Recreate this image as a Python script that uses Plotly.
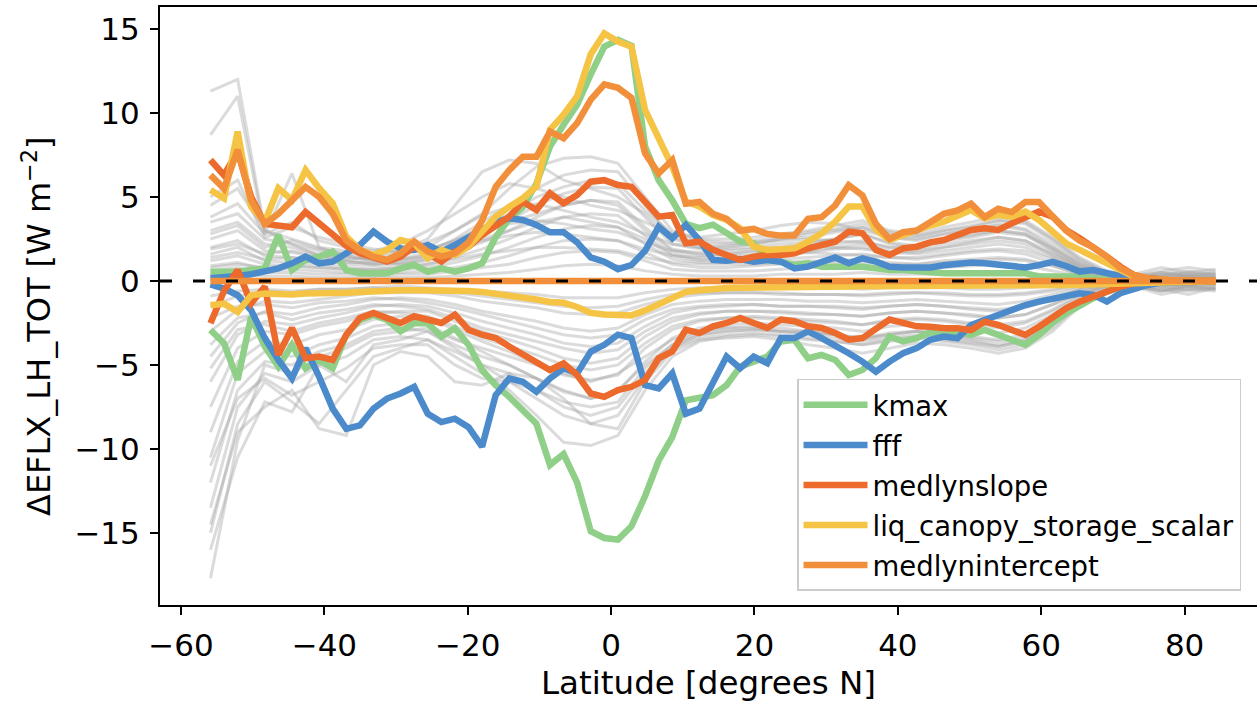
import plotly.graph_objects as go

# ---------------- data ----------------
lat = [-55.89, -54.00, -52.10, -50.21, -48.31, -46.42, -44.52, -42.63, -40.73, -38.84,
       -36.94, -35.05, -33.15, -31.26, -29.37, -27.47, -25.58, -23.68, -21.79, -19.89,
       -18.00, -16.11, -14.21, -12.32, -10.42, -8.53, -6.63, -4.74, -2.84, -0.95,
       0.95, 2.84, 4.74, 6.63, 8.53, 10.42, 12.32, 14.21, 16.11, 18.00,
       19.89, 21.79, 23.68, 25.58, 27.47, 29.37, 31.26, 33.15, 35.05, 36.94,
       38.84, 40.73, 42.63, 44.52, 46.42, 48.31, 50.21, 52.10, 54.00, 55.89,
       57.79, 59.68, 61.58, 63.47, 65.37, 67.26, 69.16, 71.05, 72.95, 74.84,
       76.74, 78.63, 80.53, 82.42, 84.32]

kmax_hi = [0.55, 0.55, 0.55, 0.65, 0.75, 2.74, 0.65, 1.25, 1.45, 1.75,
           0.65, 0.46, 0.46, 0.46, 0.75, 0.95, 0.55, 0.75, 0.55, 0.75,
           1.05, 2.6, 3.7, 4.4, 5.8, 8.0, 9.3, 10.5, 12.3, 13.95,
           14.35, 14.0, 8.0, 6.0, 4.8, 3.4, 3.15, 3.35, 2.85, 2.35,
           2.25, 1.25, 1.15, 0.95, 1.05, 0.85, 0.85, 0.85, 0.85, 0.75,
           0.65, 0.65, 0.56, 0.5, 0.46, 0.46, 0.46, 0.46, 0.46, 0.46,
           0.46, 0.26, 0.26, 0.26, 0.26, 0.15, 0.1, 0.05, 0.03, 0.02,
           0.01, 0.0, 0.0, 0.0, 0.0]
kmax_lo = [-2.92, -3.71, -5.89, -2.12, -3.9, -5.1, -3.81, -5.2, -4.7, -5.2,
           -3.21, -2.32, -2.02, -2.32, -3.0, -2.52, -2.52, -3.31, -2.82, -3.8,
           -5.3, -6.2, -6.9, -7.7, -8.5, -10.95, -10.3, -12.0, -14.9, -15.3,
           -15.4, -14.6, -12.8, -10.7, -9.3, -7.1, -6.9, -6.8, -6.2, -5.1,
           -4.8, -4.5, -3.6, -3.5, -4.6, -4.4, -4.7, -5.6, -5.3, -4.6,
           -3.3, -3.6, -3.4, -3.05, -3.21, -3.02, -3.21, -2.92, -3.21, -3.5,
           -3.8, -3.21, -2.5, -1.93, -1.43, -1.03, -0.63, -0.34, -0.14, -0.06,
           -0.03, -0.02, -0.01, 0.0, 0.0]

fff_hi = [0.16, 0.2, 0.3, 0.4, 0.6, 0.75, 1.05, 1.45, 1.05, 1.15,
          1.65, 2.14, 2.94, 2.34, 1.94, 1.85, 2.14, 1.75, 2.14, 2.64,
          3.14, 3.53, 3.73, 3.63, 3.34, 2.9, 2.9, 2.3, 1.4, 1.15,
          0.7, 0.95, 1.8, 3.23, 2.54, 3.34, 2.44, 1.25, 1.2, 1.3,
          1.15, 1.25, 1.15, 0.75, 0.85, 1.15, 1.4, 1.05, 1.35, 1.15,
          0.85, 0.8, 0.8, 0.8, 0.94, 1.05, 1.1, 1.05, 0.94, 0.85,
          0.81, 0.94, 1.14, 0.89, 0.56, 0.65, 0.46, 0.26, 0.1, 0.05,
          0.03, 0.02, 0.01, 0.0, 0.0]
fff_lo = [-0.2, -0.45, -0.85, -1.75, -3.4, -4.7, -5.8, -4.0, -5.7, -7.6,
          -8.8, -8.6, -7.6, -7.0, -6.7, -6.3, -7.9, -8.4, -8.2, -8.7,
          -9.86, -6.8, -5.8, -6.0, -6.6, -5.8, -5.2, -5.5, -4.2, -3.8,
          -3.2, -3.4, -6.2, -6.4, -5.5, -7.9, -7.6, -6.1, -4.5, -5.2,
          -4.5, -4.9, -3.4, -3.4, -3.0, -3.4, -3.8, -4.3, -4.8, -5.4,
          -4.8, -4.3, -4.0, -3.5, -3.31, -3.41, -2.62, -2.32, -2.02, -1.73,
          -1.43, -1.23, -1.03, -0.93, -0.73, -0.83, -1.23, -0.73, -0.44, -0.24,
          -0.1, -0.05, -0.03, -0.01, 0.0]

medlynslope_hi = [7.2, 6.3, 7.7, 5.0, 3.4, 3.3, 3.2, 4.1, 3.4, 2.8,
                  2.1, 1.65, 1.35, 1.15, 1.45, 2.05, 1.65, 1.15, 1.75, 2.05,
                  2.74, 3.24, 3.83, 4.72, 4.23, 5.22, 4.62, 5.12, 5.91, 6.0,
                  5.71, 5.6, 4.72, 3.83, 3.93, 2.24, 2.34, 1.85, 1.55, 1.25,
                  1.45, 1.55, 1.55, 1.65, 1.94, 2.14, 2.34, 2.94, 2.84, 1.85,
                  1.55, 1.94, 2.04, 2.3, 2.44, 2.74, 3.04, 3.14, 3.04, 3.43,
                  3.73, 4.13, 3.83, 3.04, 2.54, 2.04, 1.45, 0.85, 0.36, 0.16,
                  0.06, 0.03, 0.02, 0.01, 0.0]
medlynslope_lo = [-2.52, -0.6, 0.65, -1.33, -0.33, -4.4, -2.8, -4.6, -4.5, -4.7,
                  -3.2, -2.2, -1.9, -2.2, -2.5, -2.1, -2.3, -2.5, -2.0, -2.9,
                  -3.2, -3.4, -3.9, -4.4, -4.8, -5.3, -4.9, -5.6, -6.7, -6.9,
                  -6.5, -6.3, -5.9, -4.6, -4.2, -2.9, -3.1, -2.7, -2.5, -2.2,
                  -2.5, -2.8, -2.3, -2.4, -2.7, -2.8, -3.1, -3.5, -3.4, -2.9,
                  -2.3, -2.5, -2.7, -2.72, -2.82, -2.82, -2.92, -2.42, -2.62, -2.92,
                  -3.21, -2.72, -2.12, -1.63, -1.23, -0.93, -0.63, -0.34, -0.14, -0.06,
                  -0.03, -0.02, -0.01, 0.0, 0.0]

liq_hi = [5.42, 4.92, 8.89, 4.42, 3.53, 5.52, 4.82, 6.6, 5.52, 4.62,
          2.64, 1.85, 1.55, 1.85, 2.44, 2.24, 1.35, 1.85, 1.55, 2.05,
          2.94, 3.83, 4.42, 4.92, 5.62, 9.0, 9.9, 11.0, 13.5, 14.74,
          14.25, 13.95, 10.18, 8.4, 6.81, 4.73, 4.43, 3.93, 3.63, 3.14,
          2.04, 1.85, 1.85, 1.94, 2.34, 2.84, 3.53, 4.43, 4.43, 3.04,
          2.44, 2.74, 2.94, 3.3, 3.53, 3.83, 4.23, 3.73, 3.93, 3.83,
          4.13, 3.63, 2.94, 2.24, 1.85, 1.45, 1.05, 0.56, 0.26, 0.1,
          0.04, 0.02, 0.01, 0.0, 0.0]
liq_lo = [-1.45, -1.35, -1.85, -0.85, -0.75, -0.8, -0.8, -0.75, -0.75, -0.7,
          -0.7, -0.65, -0.6, -0.6, -0.55, -0.55, -0.55, -0.55, -0.55, -0.6,
          -0.65, -0.75, -0.85, -0.95, -1.1, -1.25, -1.3, -1.55, -1.9, -2.0,
          -2.05, -2.05, -1.75, -1.35, -0.95, -0.65, -0.55, -0.45, -0.42, -0.4,
          -0.38, -0.36, -0.35, -0.35, -0.34, -0.34, -0.33, -0.33, -0.32, -0.32,
          -0.31, -0.31, -0.3, -0.3, -0.3, -0.3, -0.3, -0.3, -0.3, -0.3,
          -0.3, -0.28, -0.26, -0.24, -0.22, -0.2, -0.16, -0.12, -0.08, -0.05,
          -0.03, -0.02, -0.01, 0.0, 0.0]

medlynintercept_hi = [6.3, 5.5, 7.8, 4.8, 3.4, 4.0, 4.8, 5.6, 5.0, 4.0,
                      2.4, 1.85, 1.45, 1.25, 1.65, 2.35, 1.75, 1.45, 1.65, 2.3,
                      3.6, 5.6, 6.6, 7.4, 7.4, 8.9, 8.5, 9.4, 10.8, 11.7,
                      11.5, 10.9, 7.6, 6.4, 7.2, 4.6, 4.7, 4.0, 3.7, 3.0,
                      3.1, 2.8, 2.7, 2.7, 3.7, 3.8, 4.5, 5.7, 5.1, 3.4,
                      2.5, 2.9, 3.0, 3.45, 4.0, 4.2, 4.6, 3.8, 4.3, 4.1,
                      4.7, 4.7, 3.8, 3.0, 2.4, 2.0, 1.45, 0.75, 0.36, 0.16,
                      0.06, 0.03, 0.02, 0.01, 0.0]
medlynintercept_lo = [0.0, 0.0, 0.0, 0.0, 0.0, 0.0, 0.0, 0.0, 0.0, 0.0,
                      0.0, 0.0, 0.0, 0.0, 0.0, 0.0, 0.0, 0.0, 0.0, 0.0,
                      0.0, 0.0, 0.0, 0.0, 0.0, 0.0, 0.0, 0.0, 0.0, 0.0,
                      0.0, 0.0, 0.0, 0.0, 0.0, 0.0, 0.0, 0.0, 0.0, 0.0,
                      0.0, 0.0, 0.0, 0.0, 0.0, 0.0, 0.0, 0.0, 0.0, 0.0,
                      0.0, 0.0, 0.0, 0.0, 0.0, 0.0, 0.0, 0.0, 0.0, 0.0,
                      0.0, 0.0, 0.0, 0.0, 0.0, 0.0, 0.0, 0.0, 0.0, 0.0,
                      0.0, 0.0, 0.0, 0.0, 0.0]

# grey ensemble members, read every second latitude row
gray_p01 = [11.3, 12.0, 3.0, 2.2, 1.5, 1.2, 1.0, 1.2, 1.5, 2.0, 2.8, 3.5, 4.0, 4.5, 4.8, 4.5, 3.0, 1.8, 1.5, 1.6,
            1.8, 2.0, 2.2, 2.5, 2.8, 2.2, 2.0, 2.4, 2.8, 3.0, 2.8, 1.8, 0.8, 0.3, 0.1, 0.2, 0.3, 0.2]
gray_p02 = [8.7, 11.0, 2.8, 6.4, 2.0, 1.5, 1.2, 1.0, 1.3, 1.8, 2.5, 3.0, 3.5, 3.8, 3.5, 3.2, 2.5, 1.5, 1.2, 1.3,
            1.5, 1.6, 1.8, 2.0, 2.2, 1.8, 1.7, 2.0, 2.3, 2.6, 2.4, 1.5, 0.6, 0.2, 0.1, 0.3, 0.5, 0.4]
gray_p03 = [4.5, 5.5, 3.0, 2.5, 2.0, 1.8, 1.5, 1.8, 2.5, 4.5, 6.5, 7.2, 7.0, 6.0, 5.5, 5.0, 4.0, 2.5, 2.0, 2.0,
            2.2, 2.5, 2.8, 3.0, 3.2, 2.8, 2.6, 3.0, 3.2, 3.6, 3.4, 2.4, 1.2, 0.5, 0.2, 0.3, 0.4, 0.3]
gray_p04 = [3.5, 4.0, 2.5, 2.2, 1.8, 1.5, 1.3, 1.5, 2.0, 3.0, 4.0, 5.5, 6.8, 7.3, 7.4, 7.0, 5.0, 3.0, 2.5, 2.5,
            2.6, 2.8, 3.0, 3.3, 3.6, 3.0, 2.8, 3.2, 3.5, 3.8, 3.6, 2.6, 1.4, 0.6, 0.3, 0.6, 0.8, 0.6]
gray_p05 = [3.0, 3.5, 2.2, 2.0, 1.6, 1.4, 1.2, 1.3, 1.7, 2.5, 3.5, 4.5, 5.5, 6.3, 6.6, 6.5, 4.5, 2.6, 2.2, 2.2,
            2.3, 2.5, 2.6, 2.9, 3.2, 2.6, 2.4, 2.8, 3.0, 3.4, 3.1, 2.2, 1.1, 0.4, 0.2, 0.4, 0.6, 0.4]
gray_p06 = [2.5, 3.0, 1.8, 1.7, 1.4, 1.2, 1.0, 1.1, 1.4, 2.0, 2.8, 3.6, 4.5, 5.2, 5.6, 5.5, 3.8, 2.2, 1.9, 1.9,
            2.0, 2.2, 2.3, 2.5, 2.8, 2.3, 2.1, 2.5, 2.7, 3.0, 2.8, 2.0, 1.0, 0.3, 0.1, 0.2, 0.3, 0.2]
gray_p07 = [2.0, 2.4, 1.5, 1.4, 1.2, 1.0, 0.9, 1.0, 1.2, 1.7, 2.3, 3.0, 3.8, 4.5, 4.8, 4.7, 3.2, 1.9, 1.6, 1.6,
            1.7, 1.9, 2.0, 2.2, 2.4, 2.0, 1.9, 2.2, 2.4, 2.6, 2.4, 1.7, 0.8, 0.3, 0.1, 0.1, 0.2, 0.1]
gray_p08 = [1.6, 2.0, 1.2, 1.1, 1.0, 0.8, 0.7, 0.8, 1.0, 1.4, 1.9, 2.5, 3.2, 3.8, 4.0, 3.9, 2.7, 1.6, 1.3, 1.3,
            1.4, 1.6, 1.7, 1.9, 2.0, 1.7, 1.6, 1.8, 2.0, 2.2, 2.0, 1.4, 0.7, 0.2, 0.1, 0.1, 0.1, 0.1]
gray_p09 = [1.2, 1.5, 1.0, 0.9, 0.8, 0.7, 0.6, 0.7, 0.8, 1.1, 1.5, 2.0, 2.6, 3.1, 3.3, 3.2, 2.2, 1.3, 1.1, 1.1,
            1.2, 1.3, 1.4, 1.5, 1.6, 1.4, 1.3, 1.5, 1.7, 1.8, 1.6, 1.1, 0.5, 0.2, 0.1, 0.1, 0.1, 0.1]
gray_p10 = [0.9, 1.1, 0.7, 0.7, 0.6, 0.5, 0.5, 0.5, 0.6, 0.8, 1.1, 1.5, 2.0, 2.4, 2.5, 2.4, 1.7, 1.0, 0.8, 0.8,
            0.9, 1.0, 1.1, 1.2, 1.3, 1.1, 1.0, 1.2, 1.3, 1.4, 1.3, 0.9, 0.4, 0.1, 0.0, 0.0, 0.1, 0.0]
gray_p11 = [0.6, 0.8, 0.5, 0.5, 0.4, 0.4, 0.3, 0.4, 0.4, 0.6, 0.8, 1.0, 1.4, 1.7, 1.8, 1.7, 1.2, 0.7, 0.6, 0.6,
            0.6, 0.7, 0.8, 0.8, 0.9, 0.8, 0.7, 0.8, 0.9, 1.0, 0.9, 0.6, 0.3, 0.1, 0.0, 0.0, 0.0, 0.0]
gray_p12 = [0.3, 0.4, 0.3, 0.3, 0.2, 0.2, 0.2, 0.2, 0.2, 0.3, 0.4, 0.5, 0.7, 0.9, 1.0, 0.9, 0.6, 0.4, 0.3, 0.3,
            0.3, 0.4, 0.4, 0.4, 0.5, 0.4, 0.4, 0.4, 0.5, 0.5, 0.5, 0.3, 0.1, 0.0, 0.0, 0.0, 0.0, 0.0]
gray_p13 = [3.8, 4.6, 2.8, 3.5, 2.4, 2.0, 1.8, 2.2, 3.0, 4.0, 5.0, 5.8, 5.5, 5.0, 4.5, 4.2, 3.5, 2.8, 2.6, 2.8,
            3.0, 3.3, 3.5, 3.4, 3.0, 2.6, 2.5, 2.8, 3.1, 3.3, 3.0, 2.0, 1.0, 0.5, 0.4, 0.8, 0.5, 0.7]
gray_p14 = [5.0, 6.0, 2.6, 3.2, 2.6, 2.2, 1.9, 1.7, 1.8, 2.4, 3.2, 4.0, 5.0, 5.6, 6.0, 5.8, 4.2, 2.8, 2.4, 2.3,
            2.4, 2.6, 2.9, 3.1, 3.4, 2.9, 2.7, 3.0, 3.3, 3.6, 3.5, 2.5, 1.3, 0.5, 0.3, 0.5, 0.3, 0.5]
gray_p15 = [1.9, 2.2, 1.6, 1.8, 1.5, 1.3, 1.4, 1.6, 1.9, 2.4, 3.0, 3.4, 3.6, 3.4, 3.1, 2.9, 2.3, 1.8, 1.7, 1.8,
            1.9, 2.0, 2.1, 2.0, 1.9, 1.7, 1.8, 2.0, 2.2, 2.4, 2.2, 1.6, 0.8, 0.3, 0.2, 0.4, 0.3, 0.3]
gray_p16 = [1.4, 1.7, 1.3, 1.4, 1.2, 1.1, 1.1, 1.3, 1.5, 1.9, 2.4, 2.7, 2.9, 2.8, 2.6, 2.4, 1.9, 1.5, 1.4, 1.5,
            1.5, 1.6, 1.7, 1.6, 1.5, 1.4, 1.4, 1.6, 1.8, 1.9, 1.8, 1.3, 0.6, 0.2, 0.1, 0.3, 0.2, 0.2]
gray_p17 = [2.8, 3.3, 2.0, 2.4, 1.9, 1.6, 1.6, 1.9, 2.3, 3.0, 3.9, 4.4, 4.6, 4.2, 3.8, 3.5, 2.8, 2.2, 2.0, 2.1,
            2.2, 2.4, 2.5, 2.4, 2.3, 2.0, 2.1, 2.4, 2.6, 2.9, 2.7, 1.9, 0.9, 0.4, 0.2, 0.5, 0.4, 0.4]
gray_p18 = [0.8, 1.0, 0.8, 0.9, 0.8, 0.7, 0.7, 0.8, 1.0, 1.3, 1.6, 1.8, 2.0, 2.0, 1.9, 1.8, 1.4, 1.1, 1.0, 1.0,
            1.0, 1.1, 1.2, 1.1, 1.1, 1.0, 1.0, 1.1, 1.2, 1.3, 1.2, 0.9, 0.4, 0.1, 0.0, 0.1, 0.1, 0.1]

gray_n01 = [-17.7, -9.5, -5.0, -5.5, -4.5, -4.0, -3.2, -3.0, -2.8, -3.5, -4.0, -4.5, -5.0, -5.5, -6.0, -5.5, -4.5, -3.5, -3.0, -2.8,
            -2.7, -2.8, -3.0, -3.2, -3.5, -3.2, -3.0, -3.2, -3.5, -3.8, -3.5, -2.5, -1.2, -0.5, -0.3, -0.6, -0.4, -0.5]
gray_n02 = [-16.0, -10.5, -7.2, -7.8, -5.0, -6.0, -3.8, -3.5, -3.0, -3.8, -4.5, -5.0, -5.8, -6.5, -7.0, -6.5, -5.0, -3.8, -3.2, -3.0,
            -2.9, -3.0, -3.2, -3.4, -3.6, -3.4, -3.2, -3.4, -3.6, -3.9, -3.6, -2.6, -1.3, -0.6, -0.3, -0.8, -0.5, -0.6]
gray_n03 = [-15.0, -8.5, -6.0, -7.2, -8.5, -6.5, -4.5, -4.0, -3.5, -4.2, -5.0, -5.5, -6.5, -7.5, -8.0, -7.5, -5.5, -4.0, -3.4, -3.2,
            -3.1, -3.2, -3.4, -3.6, -3.8, -3.6, -3.4, -3.6, -3.8, -4.1, -3.8, -2.8, -1.4, -0.6, -0.3, -0.6, -0.3, -0.4]
gray_n04 = [-13.5, -7.5, -5.5, -6.0, -5.0, -4.5, -3.5, -3.3, -3.5, -4.5, -5.5, -6.5, -8.0, -9.6, -9.8, -9.2, -6.5, -4.5, -3.6, -3.3,
            -3.2, -3.3, -3.5, -3.6, -3.8, -3.5, -3.3, -3.5, -3.7, -3.9, -3.6, -2.6, -1.3, -0.6, -0.3, -0.5, -0.8, -0.4]
gray_n05 = [-12.0, -6.5, -4.8, -5.0, -4.2, -3.8, -3.0, -2.8, -3.0, -4.0, -5.0, -6.0, -7.0, -8.0, -8.5, -8.0, -5.8, -4.0, -3.2, -3.0,
            -2.9, -3.0, -3.1, -3.2, -3.4, -3.1, -3.0, -3.1, -3.3, -3.5, -3.2, -2.3, -1.1, -0.5, -0.2, -0.3, -0.5, -0.3]
gray_n06 = [-10.5, -5.5, -4.2, -4.5, -3.8, -3.4, -2.7, -2.5, -2.6, -3.4, -4.2, -5.0, -5.8, -6.6, -7.0, -6.6, -4.8, -3.4, -2.8, -2.6,
            -2.5, -2.6, -2.7, -2.8, -3.0, -2.7, -2.6, -2.7, -2.9, -3.1, -2.8, -2.0, -1.0, -0.4, -0.2, -0.2, -0.3, -0.2]
gray_n07 = [-9.0, -4.8, -3.6, -3.8, -3.2, -2.9, -2.3, -2.1, -2.2, -2.9, -3.6, -4.2, -4.9, -5.6, -5.9, -5.6, -4.0, -2.9, -2.4, -2.2,
            -2.1, -2.2, -2.3, -2.4, -2.6, -2.3, -2.2, -2.3, -2.5, -2.6, -2.4, -1.7, -0.8, -0.3, -0.1, -0.1, -0.2, -0.1]
gray_n08 = [-7.5, -4.0, -3.0, -3.2, -2.7, -2.4, -1.9, -1.8, -1.8, -2.4, -3.0, -3.5, -4.0, -4.6, -4.9, -4.6, -3.3, -2.4, -2.0, -1.8,
            -1.8, -1.8, -1.9, -2.0, -2.1, -1.9, -1.8, -1.9, -2.1, -2.2, -2.0, -1.4, -0.7, -0.2, -0.1, -0.1, -0.1, -0.1]
gray_n09 = [-6.0, -3.2, -2.4, -2.6, -2.2, -1.9, -1.5, -1.4, -1.5, -1.9, -2.4, -2.8, -3.2, -3.7, -3.9, -3.7, -2.7, -1.9, -1.6, -1.5,
            -1.4, -1.5, -1.5, -1.6, -1.7, -1.5, -1.4, -1.5, -1.7, -1.8, -1.6, -1.1, -0.5, -0.2, -0.1, -0.1, -0.1, -0.1]
gray_n10 = [-4.5, -2.5, -1.8, -2.0, -1.6, -1.4, -1.1, -1.0, -1.1, -1.4, -1.8, -2.1, -2.4, -2.8, -3.0, -2.8, -2.0, -1.4, -1.2, -1.1,
            -1.1, -1.1, -1.2, -1.2, -1.3, -1.2, -1.1, -1.2, -1.3, -1.4, -1.2, -0.8, -0.4, -0.1, 0.0, -0.1, -0.1, 0.0]
gray_n11 = [-3.0, -1.7, -1.2, -1.3, -1.1, -0.9, -0.7, -0.7, -0.7, -0.9, -1.2, -1.4, -1.6, -1.9, -2.0, -1.9, -1.4, -1.0, -0.8, -0.7,
            -0.7, -0.8, -0.8, -0.8, -0.9, -0.8, -0.7, -0.8, -0.9, -0.9, -0.8, -0.6, -0.3, -0.1, 0.0, 0.0, 0.0, 0.0]
gray_n12 = [-1.5, -0.9, -0.6, -0.7, -0.5, -0.5, -0.4, -0.3, -0.4, -0.5, -0.6, -0.7, -0.8, -1.0, -1.0, -1.0, -0.7, -0.5, -0.4, -0.4,
            -0.4, -0.4, -0.4, -0.4, -0.5, -0.4, -0.4, -0.4, -0.5, -0.5, -0.4, -0.3, -0.1, 0.0, 0.0, 0.0, 0.0, 0.0]
gray_n13 = [-14.5, -9.0, -7.5, -6.5, -8.8, -9.2, -5.0, -4.2, -4.5, -6.0, -6.2, -5.5, -5.8, -7.0, -8.5, -8.8, -6.0, -4.2, -3.5, -3.4,
            -3.3, -3.5, -3.8, -4.0, -4.3, -4.0, -3.7, -3.8, -4.0, -4.3, -4.0, -3.0, -1.5, -0.6, -0.3, -0.6, -0.3, -0.5]
gray_n14 = [-11.0, -7.0, -5.8, -6.8, -6.0, -5.2, -4.0, -3.8, -3.8, -5.0, -5.8, -6.0, -6.5, -7.2, -7.5, -7.2, -5.2, -3.8, -3.0, -2.8,
            -2.8, -3.0, -3.0, -3.2, -3.4, -3.2, -3.0, -3.2, -3.4, -3.6, -3.4, -2.4, -1.2, -0.5, -0.3, -0.4, -0.6, -0.4]
gray_n15 = [-2.2, -1.5, -1.4, -1.6, -1.3, -1.2, -1.0, -1.1, -1.3, -1.6, -2.0, -2.4, -2.8, -3.2, -3.4, -3.2, -2.3, -1.7, -1.5, -1.4,
            -1.4, -1.5, -1.5, -1.5, -1.6, -1.5, -1.4, -1.5, -1.6, -1.7, -1.5, -1.0, -0.5, -0.2, -0.1, -0.2, -0.2, -0.1]
gray_n16 = [-3.8, -2.2, -1.9, -2.3, -1.9, -1.7, -1.4, -1.5, -1.7, -2.2, -2.8, -3.2, -3.6, -4.0, -4.3, -4.1, -3.0, -2.2, -1.9, -1.8,
            -1.8, -1.9, -2.0, -2.0, -2.1, -1.9, -1.8, -1.9, -2.0, -2.2, -2.0, -1.4, -0.7, -0.3, -0.1, -0.3, -0.2, -0.2]
gray_n17 = [-5.2, -2.9, -2.6, -3.0, -2.5, -2.2, -1.8, -1.9, -2.1, -2.7, -3.4, -3.9, -4.4, -5.0, -5.3, -5.0, -3.7, -2.7, -2.3, -2.2,
            -2.2, -2.3, -2.4, -2.5, -2.6, -2.4, -2.3, -2.4, -2.6, -2.8, -2.5, -1.8, -0.9, -0.3, -0.1, -0.4, -0.3, -0.2]
gray_n18 = [-0.9, -0.6, -0.5, -0.6, -0.5, -0.5, -0.4, -0.5, -0.6, -0.7, -0.9, -1.1, -1.3, -1.5, -1.6, -1.5, -1.1, -0.8, -0.7, -0.7,
            -0.7, -0.7, -0.8, -0.8, -0.8, -0.7, -0.7, -0.7, -0.8, -0.8, -0.7, -0.5, -0.2, -0.1, 0.0, -0.1, -0.1, 0.0]

param_names = ["kmax", "fff", "medlynslope", "liq_canopy_storage_scalar", "medlynintercept"]
param_colors = ["#8fcf88", "#4c8bcb", "#ec6a2c", "#f5c445", "#f18f3b"]
x_ticks = [-60, -40, -20, 0, 20, 40, 60, 80]
y_ticks = [-15, -10, -5, 0, 5, 10, 15]

# ---------------- figure ----------------
lat_gray = lat[::2]
gray_members = [gray_p01, gray_p02, gray_p03, gray_p04, gray_p05, gray_p06, gray_p07, gray_p08, gray_p09,
                gray_p10, gray_p11, gray_p12, gray_p13, gray_p14, gray_p15, gray_p16, gray_p17, gray_p18,
                gray_n01, gray_n02, gray_n03, gray_n04, gray_n05, gray_n06, gray_n07, gray_n08, gray_n09,
                gray_n10, gray_n11, gray_n12, gray_n13, gray_n14, gray_n15, gray_n16, gray_n17, gray_n18]

fig = go.Figure()
for g in gray_members:
    fig.add_trace(go.Scatter(x=lat_gray, y=g, mode="lines",
                             line=dict(color="rgba(165,165,165,0.40)", width=3),
                             showlegend=False, hoverinfo="skip"))

pairs = [(kmax_hi, kmax_lo), (fff_hi, fff_lo), (medlynslope_hi, medlynslope_lo),
         (liq_hi, liq_lo), (medlynintercept_hi, medlynintercept_lo)]
for name, color, (hi, lo) in zip(param_names, param_colors, pairs):
    fig.add_trace(go.Scatter(x=lat, y=hi, mode="lines", name=name, legendgroup=name,
                             line=dict(color=color, width=6.5)))
    fig.add_trace(go.Scatter(x=lat, y=lo, mode="lines", name=name, legendgroup=name,
                             showlegend=False, line=dict(color=color, width=6.5)))

fig.add_shape(type="line", xref="paper", x0=0, x1=1, yref="y", y0=0, y1=0,
              line=dict(color="black", width=3, dash="12px,21px"), layer="above")

font_family = "DejaVu Sans"
axis_common = dict(showline=True, linecolor="black", linewidth=2, ticks="outside",
                   ticklen=8, tickwidth=2, tickcolor="black", showgrid=False,
                   zeroline=False, tickfont=dict(family=font_family, size=31, color="black"))

fig.update_layout(
    width=1257, height=701,
    margin=dict(l=160, r=0, t=7, b=96),
    paper_bgcolor="white", plot_bgcolor="white",
    xaxis=dict(range=[-62.93, 90.1], tickvals=x_ticks, mirror=True, ticklabelstandoff=4,
               **axis_common),
    yaxis=dict(range=[-19.29, 16.31], tickvals=y_ticks, mirror=False, ticklabelstandoff=4,
               **axis_common),
    legend=dict(x=0.5807, y=0.378, xanchor="left", yanchor="top",
                bgcolor="rgba(255,255,255,0.85)", bordercolor="#cccccc", borderwidth=1.5,
                font=dict(family=font_family, size=27.5, color="black"),
                itemwidth=64, tracegroupgap=1.3, traceorder="grouped"),
    annotations=[
        dict(text="Latitude [degrees N]", xref="paper", yref="paper", x=0.5, y=0,
             xanchor="center", yanchor="top", yshift=-57, showarrow=False,
             font=dict(family=font_family, size=32.5, color="black")),
        dict(text="ΔEFLX_LH_TOT [W m<sup>−2</sup>]", xref="paper", yref="paper", x=0, y=0.5,
             xanchor="center", yanchor="middle", xshift=-123, yshift=-20, textangle=-90,
             showarrow=False, font=dict(family=font_family, size=32, color="black")),
    ],
)

fig.write_html("out.html", config={"displayModeBar": False},
               post_script="document.body.style.margin='0';document.body.style.padding='0';"
                           "document.documentElement.style.overflow='hidden';")
